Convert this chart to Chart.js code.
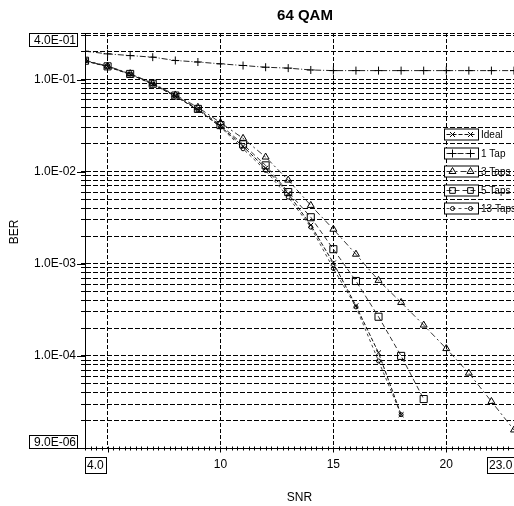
<!DOCTYPE html>
<html>
<head>
<meta charset="utf-8">
<script src="https://cdn.jsdelivr.net/npm/chart.js@4"></script>
<style>
  body { margin: 0; background: #fff; }
  #wrap { width: 514px; height: 506px; }
</style>
</head>
<body>
<div id="wrap"><canvas id="berChart" width="514" height="506"></canvas></div>
<script>
// SNR points (dB) shared by every curve
const snr = [4, 5, 6, 7, 8, 9, 10, 11, 12, 13, 14, 15, 16, 17, 18, 19, 20, 21, 22, 23];

// Bit error rate per curve, starting at snr[0]
const ideal    = [0.160, 0.138, 0.114, 0.089, 0.066, 0.047, 0.031, 0.0188, 0.0109, 0.0058, 0.00262, 0.00102, 3.5e-4, 1.08e-4, 2.3e-5];
const tap1     = [0.203, 0.190, 0.182, 0.175, 0.161, 0.155, 0.148, 0.142, 0.136, 0.133, 0.127, 0.125, 0.125, 0.125, 0.125, 0.125, 0.125, 0.125, 0.125, 0.125];
const taps3    = [0.162, 0.140, 0.116, 0.091, 0.068, 0.050, 0.034, 0.023, 0.0144, 0.0081, 0.0043, 0.00237, 0.00127, 6.6e-4, 3.8e-4, 2.16e-4, 1.2e-4, 6.5e-5, 3.2e-5, 1.57e-5];
const taps5    = [0.160, 0.139, 0.115, 0.090, 0.067, 0.048, 0.032, 0.0198, 0.0117, 0.0060, 0.0032, 0.00144, 6.5e-4, 2.66e-4, 1.0e-4, 3.4e-5];
const taps13   = [0.159, 0.138, 0.114, 0.089, 0.066, 0.047, 0.0305, 0.0177, 0.0103, 0.0053, 0.0025, 8.9e-4, 3.4e-4, 8.8e-5, 2.3e-5];

// Axis ticks and labels
const xTickValues = [5, 10, 15, 20];
const xTickLabels = ['', '10', '15', '20'];
const xEndLabels  = ['4.0', '23.0'];
const yDecades    = [1e-5, 1e-4, 1e-3, 1e-2, 1e-1];
const yTickLabels = ['', '1.0E-04', '1.0E-03', '1.0E-02', '1.0E-01'];
const yEndLabels  = ['4.0E-01', '9.0E-06'];
const yMin = 1e-5;
const yMax = 0.32;

const FONT = "'Liberation Sans', Arial, sans-serif";
Chart.defaults.font.family = FONT;
Chart.defaults.color = '#000';

// grid lines at 1..9 x each decade
const yGrid = [];
yDecades.forEach(d => {
  for (let k = 1; k <= 9; k++) {
    const v = k * d;
    if (v <= yMax) yGrid.push(v);
  }
});
yGrid.push(yMax);

function toPoints(values) {
  return values.map((v, i) => ({ x: snr[i], y: v }));
}

function isDecade(v) {
  return yDecades.findIndex(d => Math.abs(v / d - 1) < 1e-6);
}

function series(label, values, dash, style, radius, color) {
  return {
    label: label,
    data: toPoints(values),
    borderColor: color,
    borderWidth: 1,
    borderDash: dash,
    pointStyle: style,
    pointRadius: radius,
    pointBorderColor: '#000',
    pointBackgroundColor: 'rgba(255,255,255,0)',
    pointBorderWidth: 1,
    tension: 0
  };
}

// draws titles, boxed end labels, extra ticks and the boxed legend
const decor = {
  id: 'decor',
  afterDraw(chart) {
    const ctx = chart.ctx;
    const area = chart.chartArea;
    const xs = chart.scales.x;
    const ys = chart.scales.y;
    ctx.save();

    // long ticks at decades
    ctx.strokeStyle = '#000';
    ctx.lineWidth = 1;
    ctx.setLineDash([]);
    yDecades.forEach(d => {
      const py = Math.round(ys.getPixelForValue(d)) + 0.5;
      ctx.beginPath();
      ctx.moveTo(area.left - 8, py);
      ctx.lineTo(area.left, py);
      ctx.stroke();
    });

    // small ticks along the SNR axis
    const by = Math.round(area.bottom) + 0.5;
    for (let v = xs.min; v <= xs.max + 1e-9; v += 0.25) {
      const px = Math.round(xs.getPixelForValue(v)) + 0.5;
      const major = xTickValues.includes(v);
      ctx.beginPath();
      ctx.moveTo(px, by - 2);
      ctx.lineTo(px, by + (major ? 4 : 2));
      ctx.stroke();
    }

    // boxed end labels
    ctx.font = '12px ' + FONT;
    ctx.textBaseline = 'middle';
    function boxLabel(text, x, y, w, h, align) {
      ctx.fillStyle = '#fff';
      ctx.fillRect(x, y, w, h);
      ctx.strokeRect(x + 0.5, y + 0.5, w, h);
      ctx.fillStyle = '#000';
      ctx.textAlign = align;
      ctx.fillText(text, align === 'right' ? x + w - 1 : x + 2, y + h / 2 + 1);
    }
    boxLabel(yEndLabels[0], 29, area.top, 48, 13, 'right');
    boxLabel(yEndLabels[1], 29, area.bottom - 13, 48, 13, 'right');
    boxLabel(xEndLabels[0], area.left, area.bottom + 9, 21, 16, 'left');
    boxLabel(xEndLabels[1], area.right - 27, area.bottom + 9, 30, 16, 'left');

    // titles
    ctx.textAlign = 'center';
    ctx.font = 'bold 15px ' + FONT;
    ctx.fillText('64 QAM', 305, 16);
    ctx.font = '12px ' + FONT;
    ctx.fillText('SNR', (area.left + area.right) / 2, 498);
    ctx.save();
    ctx.translate(15, 232);
    ctx.rotate(-Math.PI / 2);
    ctx.fillText('BER', 0, 0);
    ctx.restore();

    // legend
    ctx.font = '10px ' + FONT;
    ctx.textAlign = 'left';
    chart.data.datasets.forEach((ds, i) => {
      const cy = Math.round(134 + i * 18.5) + 0.5;
      const x0 = 444.5, x1 = 478.5;
      ctx.fillStyle = '#fff';
      ctx.fillRect(x0, cy - 5.5, x1 - x0, 11);
      ctx.strokeStyle = '#000';
      ctx.setLineDash([]);
      ctx.strokeRect(x0, cy - 5.5, x1 - x0, 11);
      ctx.strokeStyle = ds.borderColor;
      ctx.setLineDash(ds.borderDash);
      ctx.beginPath();
      ctx.moveTo(x0 + 2, cy);
      ctx.lineTo(x1 - 2, cy);
      ctx.stroke();
      ctx.setLineDash([]);
      ctx.strokeStyle = '#000';
      [x0 + 8, x1 - 8].forEach(mx => marker(ctx, ds.pointStyle, mx, cy, Math.min(ds.pointRadius, 4)));
      ctx.fillStyle = '#000';
      ctx.fillText(ds.label, 481, cy + 1);
    });
    ctx.restore();
  }
};

function marker(ctx, style, x, y, r) {
  ctx.beginPath();
  if (style === 'crossRot') {
    const s = r * Math.SQRT1_2;
    ctx.moveTo(x - s, y - s); ctx.lineTo(x + s, y + s);
    ctx.moveTo(x - s, y + s); ctx.lineTo(x + s, y - s);
  } else if (style === 'cross') {
    ctx.moveTo(x - r, y); ctx.lineTo(x + r, y);
    ctx.moveTo(x, y - r); ctx.lineTo(x, y + r);
  } else if (style === 'triangle') {
    ctx.moveTo(x, y - r);
    ctx.lineTo(x + r * 0.866, y + r / 2);
    ctx.lineTo(x - r * 0.866, y + r / 2);
    ctx.closePath();
  } else if (style === 'rect') {
    const s = r * Math.SQRT1_2;
    ctx.rect(x - s, y - s, 2 * s, 2 * s);
  } else {
    ctx.arc(x, y, r, 0, Math.PI * 2);
  }
  ctx.stroke();
}

const ctx = document.getElementById('berChart').getContext('2d');

const berChart = new Chart(ctx, {
  type: 'line',
  data: {
    datasets: [
      series('Ideal',   ideal,  [4, 2],        'crossRot', 3.5, '#111'),
      series('1 Tap',   tap1,   [6, 2, 1, 2],  'cross',    4,   '#222'),
      series('3 Taps',  taps3,  [6, 3, 2, 3],  'triangle', 4,   '#333'),
      series('5 Taps',  taps5,  [5, 3],        'rect',     5,   '#333'),
      series('13 Taps', taps13, [3, 3],        'circle',   2,   '#444')
    ]
  },
  options: {
    responsive: false,
    animation: false,
    devicePixelRatio: 1,
    layout: { autoPadding: false, padding: { left: 0, top: 33, right: 0, bottom: 0 } },
    plugins: {
      legend: { display: false },
      title: { display: false },
      tooltip: { enabled: false }
    },
    scales: {
      x: {
        type: 'linear',
        min: 4,
        max: 23,
        afterBuildTicks: s => { s.ticks = xTickValues.map(v => ({ value: v })); },
        afterFit: s => { s.height = 58; },
        grid: { color: '#000', lineWidth: 1, drawTicks: false },
        border: { display: true, color: '#000', width: 1, dash: [4, 2] },
        ticks: {
          padding: 9,
          autoSkip: false,
          maxRotation: 0,
          font: { size: 12 },
          callback: (v, i) => xTickLabels[i]
        }
      },
      y: {
        type: 'logarithmic',
        min: yMin,
        max: yMax,
        afterBuildTicks: s => { s.ticks = yGrid.map(v => ({ value: v })); },
        afterFit: s => { s.width = 85; },
        grid: { color: '#000', lineWidth: 1, drawTicks: true, tickLength: 4, tickBorderDash: [], tickColor: '#000' },
        border: { display: true, color: '#000', width: 1, dash: [5, 2] },
        ticks: {
          padding: 5,
          autoSkip: false,
          font: { size: 12 },
          callback: v => {
            const i = isDecade(v);
            return i >= 0 ? yTickLabels[i] : '';
          }
        }
      }
    }
  },
  plugins: [decor]
});
</script>
</body>
</html>
